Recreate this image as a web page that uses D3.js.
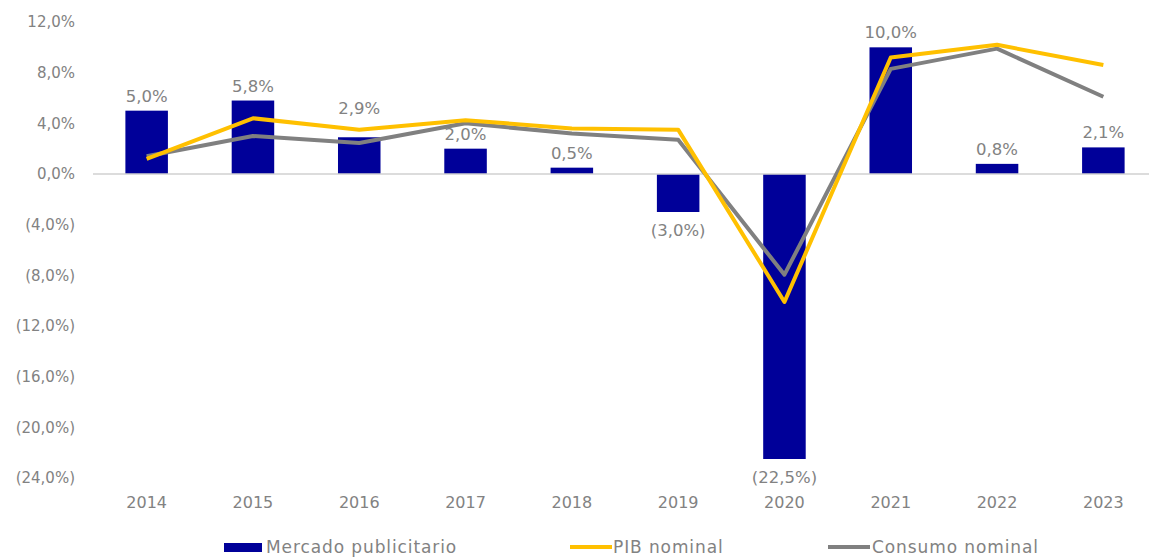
<!DOCTYPE html>
<html lang="es">
<head>
    <meta charset="UTF-8">
    <title>Mercado publicitario vs PIB y consumo</title>
    <script src="https://d3js.org/d3.v7.min.js"></script>
    <style>
        html, body {
            margin: 0;
            padding: 0;
            background: #fff;
        }
        svg text {
            font-family: "DejaVu Sans", "Noto Sans", sans-serif;
            fill: #828282;
        }
    </style>
</head>
<body>
    <svg id="chart" width="1149" height="559"></svg>

    <script>
        // data (% yoy)
        const years = ["2014", "2015", "2016", "2017", "2018", "2019", "2020", "2021", "2022", "2023"];
        const mercado = [5.0, 5.8, 2.9, 2.0, 0.5, -3.0, -22.5, 10.0, 0.8, 2.1];
        const pib = [1.2, 4.4, 3.5, 4.25, 3.6, 3.5, -10.1, 9.2, 10.2, 8.6];
        const consumo = [1.4, 3.0, 2.45, 4.0, 3.2, 2.7, -7.95, 8.3, 9.9, 6.1];
        const yTicks = [12, 8, 4, 0, -4, -8, -12, -16, -20, -24];

        const colors = { bar: "#000099", pib: "#ffc000", consumo: "#808080" };

        const svg = d3.select("#chart");

        const x = d3.scaleBand()
            .domain(years)
            .range([93.5, 1156.5])
            .paddingInner(0.6)
            .paddingOuter(0.3);

        const y = d3.scaleLinear()
            .domain([-24, 12])
            .range([478, 22]);

        // comma decimals, negatives in brackets
        const fmt = v => {
            const s = Math.abs(v).toFixed(1).replace(".", ",") + "%";
            return v < 0 ? "(" + s + ")" : s;
        };

        // y axis labels
        svg.append("g")
            .selectAll("text")
            .data(yTicks)
            .join("text")
            .attr("x", 75)
            .attr("y", d => y(d))
            .attr("dy", "0.36em")
            .attr("text-anchor", "end")
            .style("font-size", "15px")
            .text(fmt);

        // bars
        svg.append("g")
            .selectAll("rect")
            .data(mercado)
            .join("rect")
            .attr("x", (d, i) => x(years[i]))
            .attr("width", x.bandwidth())
            .attr("y", d => y(Math.max(0, d)))
            .attr("height", d => Math.abs(y(d) - y(0)))
            .attr("fill", colors.bar);

        // zero line
        svg.append("line")
            .attr("x1", 93)
            .attr("x2", 1149)
            .attr("y1", y(0))
            .attr("y2", y(0))
            .attr("stroke", "#d0d0d0")
            .attr("stroke-width", 1.5);

        // lines
        const line = d3.line()
            .x((d, i) => x(years[i]) + x.bandwidth() / 2)
            .y(d => y(d));

        svg.append("path")
            .datum(consumo)
            .attr("d", line)
            .attr("fill", "none")
            .attr("stroke", colors.consumo)
            .attr("stroke-width", 4)
            .attr("stroke-linejoin", "round");

        svg.append("path")
            .datum(pib)
            .attr("d", line)
            .attr("fill", "none")
            .attr("stroke", colors.pib)
            .attr("stroke-width", 4)
            .attr("stroke-linejoin", "round");

        // bar labels; pushed above the lines when a line runs just over the bar
        const labelY = (d, i) => {
            if (d < 0) return y(d) + 24;
            const top = Math.max(pib[i], consumo[i]);
            if (top > d && top - d < 1.5) return y(top) - 16;
            return y(d) - 9;
        };

        svg.append("g")
            .selectAll("text")
            .data(mercado)
            .join("text")
            .attr("x", (d, i) => x(years[i]) + x.bandwidth() / 2)
            .attr("y", labelY)
            .attr("text-anchor", "middle")
            .style("font-size", "16.5px")
            .text(fmt);

        // x axis labels
        svg.append("g")
            .selectAll("text")
            .data(years)
            .join("text")
            .attr("x", d => x(d) + x.bandwidth() / 2)
            .attr("y", 508)
            .attr("text-anchor", "middle")
            .style("font-size", "16px")
            .text(d => d);

        // legend
        const legend = svg.append("g")
            .style("font-size", "17px")
            .style("letter-spacing", "0.9px");
        legend.append("rect")
            .attr("x", 224).attr("y", 543)
            .attr("width", 38).attr("height", 9)
            .attr("fill", colors.bar);
        legend.append("text")
            .attr("x", 266).attr("y", 553)
            .text("Mercado publicitario");

        legend.append("line")
            .attr("x1", 570).attr("x2", 612)
            .attr("y1", 547).attr("y2", 547)
            .attr("stroke", colors.pib).attr("stroke-width", 4);
        legend.append("text")
            .attr("x", 613).attr("y", 553)
            .text("PIB nominal");

        legend.append("line")
            .attr("x1", 828).attr("x2", 870)
            .attr("y1", 547).attr("y2", 547)
            .attr("stroke", colors.consumo).attr("stroke-width", 4);
        legend.append("text")
            .attr("x", 872).attr("y", 553)
            .text("Consumo nominal");
    </script>
</body>
</html>
